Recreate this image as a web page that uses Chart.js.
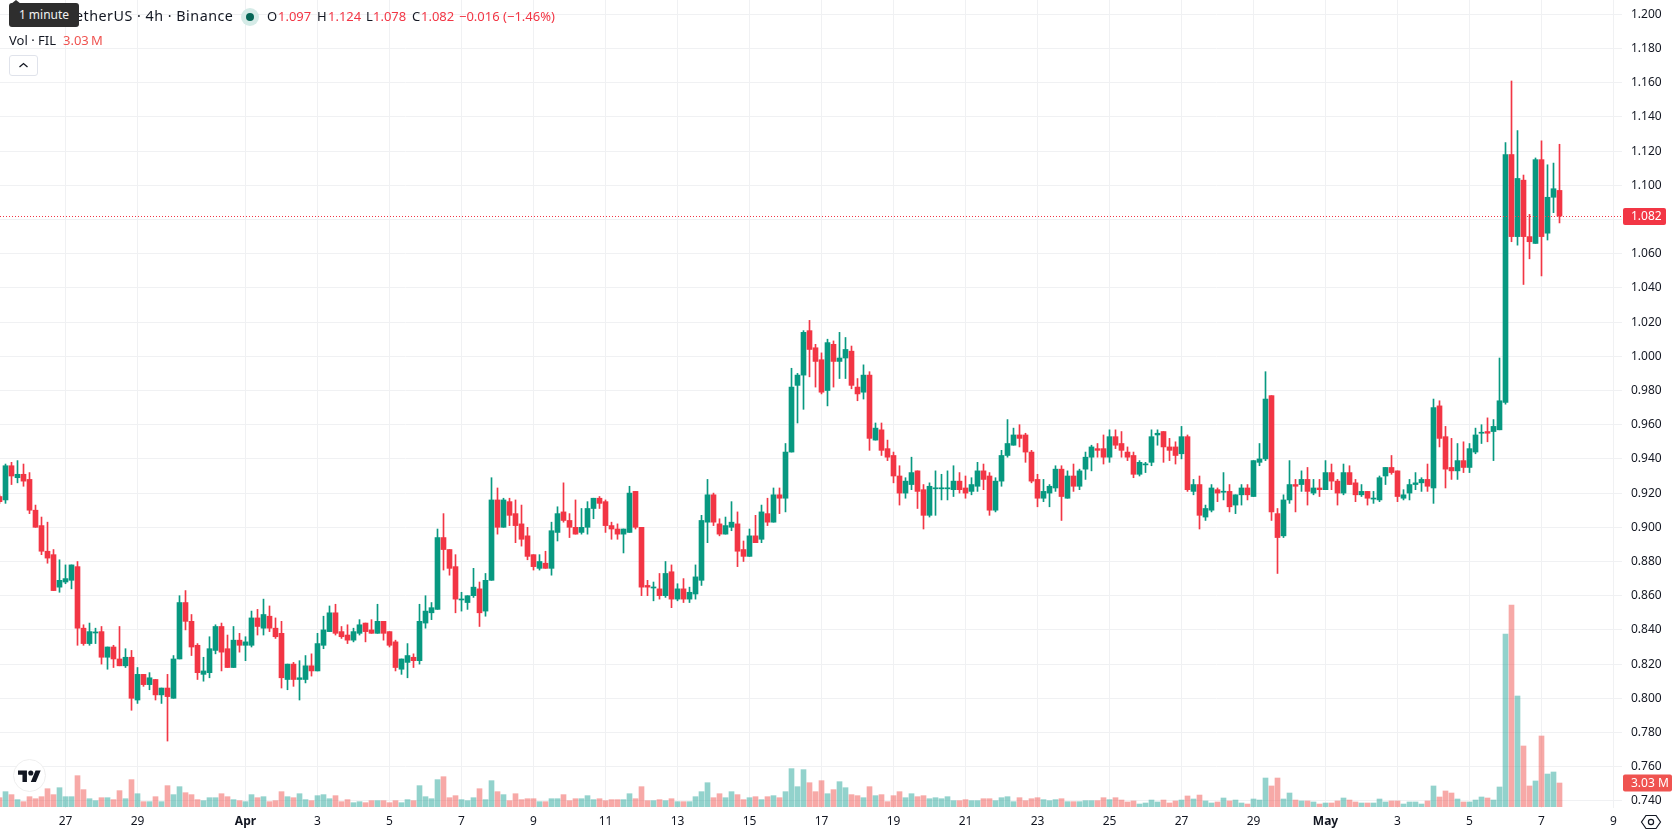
<!DOCTYPE html>
<html>
<head>
<meta charset="utf-8">
<title>FIL / TetherUS</title>
<script src="https://cdn.jsdelivr.net/npm/chart.js@4"></script>
<style>
html,body{margin:0;padding:0;background:#fff;overflow:hidden;}
#wrap{position:relative;width:1678px;height:835px;font-family:"Noto Sans",sans-serif;color:#131722;}
#grafica{position:absolute;left:0;top:0;}
.t{position:absolute;white-space:nowrap;font-size:13px;line-height:18px;}
.r{color:#f23645;}
#tip{position:absolute;left:9px;top:3px;width:70px;height:24px;background:#2e2e2e;border-radius:3px;color:#f2f2f2;font-size:12px;line-height:24px;text-align:center;}
#tipn{position:absolute;left:11px;top:0;width:0;height:0;border-left:5px solid transparent;border-right:5px solid transparent;border-bottom:4px solid #2e2e2e;}
#dot{position:absolute;left:241px;top:8px;width:18px;height:18px;border-radius:50%;background:#d5ebe7;}
#dot i{position:absolute;left:5px;top:5px;width:8px;height:8px;border-radius:50%;background:#056656;}
#btn{position:absolute;left:9px;top:55px;width:27px;height:19px;border:1px solid #e0e3eb;border-radius:3px;background:#fff;}
#logo{position:absolute;left:13px;top:759px;width:31px;height:31px;border:1px solid #eeeeee;border-radius:50%;background:#fff;}
</style>
</head>
<body>
<div id="wrap">
  <canvas id="grafica" width="1678" height="835"></canvas>

  <div class="t" style="left:32px;top:7px;font-size:14.3px;letter-spacing:.5px">FIL / TetherUS · 4h · Binance</div>
  <div id="dot"><i></i></div>
  <div class="t" style="left:267px;top:7px">O</div><div class="t r" style="left:278px;top:7px">1.097</div>
  <div class="t" style="left:317px;top:7px">H</div><div class="t r" style="left:328px;top:7px">1.124</div>
  <div class="t" style="left:366px;top:7px">L</div><div class="t r" style="left:373px;top:7px">1.078</div>
  <div class="t" style="left:412px;top:7px">C</div><div class="t r" style="left:421px;top:7px">1.082</div>
  <div class="t r" style="left:459px;top:7px">−0.016 (−1.46%)</div>
  <div class="t" style="left:9px;top:31px">Vol · FIL</div>
  <div class="t" style="left:63px;top:31px;color:#ef5350">3.03&#8201;M</div>

  <div id="btn">
    <svg width="27" height="19" viewBox="0 0 27 19"><path d="M9.5 11 L13.5 7.5 L17.5 11" fill="none" stroke="#131722" stroke-width="1.3"/></svg>
  </div>

  <div id="tipn"></div>
  <div id="tip">1 minute</div>

  <div id="logo">
    <svg style="position:absolute;left:4px;top:9px" width="23" height="13" viewBox="0 2 36 20"><path fill="#131722" d="M14 22H7V11H0V4h14v18zM28 22h-8l7.5-18h8L28 22z"/><circle fill="#131722" cx="20" cy="8" r="4"/></svg>
  </div>

  <svg style="position:absolute;left:1640px;top:812px" width="22" height="20" viewBox="0 0 22 20">
    <path d="M6 3.5 H16 L20.5 10 L16 16.5 H6 L1.5 10 Z" fill="none" stroke="#131722" stroke-width="1.2"/>
    <circle cx="11" cy="10" r="2.6" fill="none" stroke="#131722" stroke-width="1.2"/>
  </svg>
</div>

<script>

// DATOS

const opens = [
.918,.916,.936,.929,.931,.928,.910,.901,.886,.884,
.865,.868,.869,.877,.841,.832,.8382,.839,.824,.830,
.823,.819,.824,.799,.814,.808,.811,.802,.806,.800,
.823,.856,.845,.831,.814,.815,.828,.842,.829,.818,
.834,.831,.831,.847,.841,.848,.841,.838,.811,.820,
.811,.811,.819,.816,.831,.839,.850,.839,.837,.834,
.838,.844,.840,.838,.845,.839,.833,.817,.821,.824,
.822,.844,.850,.852,.894,.887,.877,.8575,.856,.860,
.864,.851,.869,.916,.900,.915,.908,.902,.895,.884,
.876,.879,.876,.897,.909,.904,.900,.897,.900,.911,
.917,.915,.901,.899,.896,.897,.921,.900,.866,.8645,
.864,.860,.874,.858,.864,.858,.861,.869,.903,.919,
.902,.896,.900,.902,.887,.883,.895,.893,.908,.903,
.919,.917,.944,.983,.989,1.015,1.005,.998,.980,1.007,
.997,.999,1.003,.982,.979,.989,.951,.957,.946,.942,
.930,.920,.925,.933,.922,.907,.9225,.9225,.9225,.922,
.927,.923,.921,.924,.933,.930,.910,.927,.942,.948,
.954,.954,.944,.928,.917,.920,.923,.934,.917,.930,
.924,.934,.941,.946,.946,.941,.953,.949,.944,.942,
.931,.9365,.938,.954,.956,.947,.947,.943,.953,.921,
.925,.906,.910,.922,.9205,.921,.913,.919,.923,.918,
.938,.940,.977,.908,.895,.916,.925,.925,.928,.920,
.923,.922,.932,.927,.920,.932,.926,.919,.921,.9165,
.916,.930,.935,.933,.917,.920,.925,.926,.928,.923,
.971,.953,.935,.933,.939,.935,.944,.955,.956,.956,
.957,.973,1.118,1.070,1.103,1.070,1.066,1.115,1.072,1.093,1.097
];

const highs = [
.919,.937,.938,.939,.937,.932,.913,.906,.903,.887,
.881,.878,.878,.880,.843,.844,.841,.842,.830,.831,
.842,.829,.828,.818,.814,.815,.811,.806,.814,.825,
.860,.863,.849,.832,.824,.836,.843,.844,.837,.842,
.838,.836,.851,.852,.858,.854,.847,.845,.820,.821,
.822,.825,.826,.838,.848,.854,.855,.842,.843,.841,
.846,.844,.846,.855,.845,.839,.834,.823,.832,.826,
.855,.860,.856,.899,.908,.887,.884,.862,.860,.876,
.868,.873,.929,.923,.917,.917,.916,.913,.900,.884,
.884,.886,.903,.912,.926,.908,.916,.911,.915,.917,
.918,.916,.903,.902,.899,.924,.921,.900,.869,.868,
.873,.880,.878,.867,.870,.865,.878,.907,.928,.920,
.905,.906,.915,.909,.892,.899,.907,.913,.917,.923,
.923,.949,.993,.990,1.015,1.021,1.007,1.002,1.010,1.009,
1.014,1.011,1.006,.987,.995,.991,.961,.961,.951,.944,
.936,.929,.941,.933,.925,.926,.933,.931,.933,.936,
.932,.930,.929,.938,.937,.932,.929,.945,.963,.958,
.960,.955,.945,.931,.928,.925,.936,.936,.933,.937,
.934,.944,.948,.949,.954,.957,.957,.956,.947,.944,
.939,.938,.957,.957,.956,.952,.950,.959,.954,.928,
.930,.913,.925,.923,.932,.925,.919,.925,.925,.939,
.949,.991,.977,.911,.919,.939,.928,.933,.935,.928,
.928,.939,.937,.928,.937,.936,.928,.925,.921,.921,
.930,.935,.942,.933,.922,.928,.932,.929,.937,.975,
.974,.959,.952,.949,.950,.949,.958,.960,.964,.963,
.999,1.125,1.161,1.132,1.106,1.083,1.116,1.126,1.112,1.113,1.124
];

const lows = [
.914,.914,.925,.926,.924,.908,.900,.884,.879,.863,
.862,.867,.864,.831,.831,.831,.832,.820,.817,.818,
.819,.818,.793,.797,.807,.805,.799,.797,.775,.800,
.823,.840,.825,.811,.810,.812,.826,.816,.818,.818,
.827,.822,.830,.837,.837,.839,.835,.806,.805,.807,
.799,.809,.813,.816,.829,.839,.837,.835,.832,.833,
.837,.833,.838,.838,.834,.830,.816,.814,.812,.818,
.820,.841,.846,.852,.875,.872,.850,.851,.852,.859,
.842,.848,.869,.896,.900,.901,.891,.889,.881,.875,
.875,.876,.872,.892,.903,.894,.896,.896,.896,.905,
.911,.897,.893,.893,.885,.897,.899,.860,.860,.857,
.858,.859,.853,.857,.856,.856,.858,.866,.891,.901,
.895,.896,.898,.877,.880,.883,.891,.891,.901,.903,
.908,.909,.944,.961,.969,.988,.982,.978,.971,.982,
.987,.987,.981,.974,.975,.945,.951,.942,.939,.926,
.913,.917,.922,.911,.899,.906,.907,.916,.916,.918,
.920,.917,.919,.921,.922,.907,.909,.924,.941,.948,
.947,.938,.926,.912,.915,.912,.921,.904,.917,.921,
.922,.928,.933,.941,.937,.938,.946,.941,.939,.929,
.930,.932,.936,.948,.938,.939,.937,.940,.921,.919,
.899,.904,.909,.915,.916,.909,.908,.913,.916,.918,
.936,.939,.904,.873,.894,.914,.909,.921,.913,.919,
.918,.922,.922,.913,.919,.925,.915,.918,.913,.914,
.915,.925,.931,.915,.916,.916,.922,.921,.921,.914,
.947,.923,.928,.928,.932,.932,.943,.949,.950,.939,
.957,.972,1.067,1.065,1.042,1.057,1.066,1.047,1.068,1.084,1.078
];

const closes = [
.915,.936,.930,.931,.927,.910,.900,.886,.882,.863,
.869,.870,.878,.841,.832,.839,.8388,.824,.830,.823,
.819,.824,.800,.814,.808,.812,.802,.806,.801,.823,
.856,.845,.830,.815,.816,.829,.842,.827,.818,.834,
.831,.833,.847,.842,.849,.841,.836,.812,.820,.811,
.812,.819,.816,.832,.840,.850,.838,.836,.834,.839,
.843,.839,.838,.845,.838,.831,.818,.823,.825,.822,
.845,.851,.853,.894,.887,.876,.858,.8581,.860,.865,
.850,.869,.916,.900,.916,.907,.901,.893,.883,.877,
.880,.876,.898,.908,.904,.900,.896,.900,.911,.917,
.914,.901,.899,.896,.899,.920,.900,.865,.865,.8651,
.860,.873,.858,.864,.858,.862,.871,.904,.919,.903,
.896,.901,.903,.886,.883,.895,.891,.909,.903,.919,
.917,.944,.982,.989,1.014,1.004,.997,.979,1.008,.997,
.999,1.004,.983,.978,.989,.952,.958,.945,.941,.930,
.920,.927,.932,.921,.907,.924,.9231,.9231,.9231,.927,
.922,.920,.925,.933,.928,.910,.927,.942,.949,.954,
.952,.944,.927,.917,.921,.924,.934,.918,.930,.924,
.933,.941,.947,.945,.941,.953,.948,.945,.941,.931,
.938,.9371,.953,.955,.947,.945,.942,.953,.922,.925,
.907,.911,.923,.920,.9211,.912,.919,.923,.919,.939,
.940,.975,.909,.894,.916,.925,.924,.928,.921,.923,
.922,.932,.927,.920,.932,.925,.919,.921,.917,.9171,
.929,.935,.932,.918,.919,.925,.926,.928,.924,.970,
.952,.934,.933,.939,.935,.946,.954,.9556,.955,.959,
.974,1.118,1.070,1.104,1.070,1.067,1.115,1.070,1.093,1.098,1.082
];

const volumes = [
1.15,1.92,1.54,.90,.64,1.28,1.02,1.28,2.30,1.54,
2.43,1.28,1.28,3.97,2.18,1.02,.77,1.15,1.15,.90,
2.05,1.02,3.46,1.66,.64,.64,1.28,.64,2.69,1.54,
2.56,1.79,1.54,.90,.77,1.15,1.15,1.66,1.28,.90,
.77,.64,1.54,1.15,1.28,.64,.77,1.92,1.28,1.15,
1.66,.90,.77,1.41,1.54,1.02,1.41,.64,.90,.51,
.64,.51,.77,.77,.77,.51,.77,.51,.90,.77,
2.69,1.28,1.02,3.46,3.84,1.15,1.41,.90,.77,1.15,
2.30,.90,3.33,1.92,1.54,.77,1.66,.90,1.02,1.02,
.64,.64,1.02,1.02,1.54,.77,1.02,1.02,1.41,.90,
1.02,.77,.90,.90,.90,1.66,1.02,2.56,.77,.77,
.90,.77,1.02,.64,.64,.64,1.28,1.92,3.07,1.15,
1.66,1.15,1.92,1.54,.90,1.15,1.28,.90,1.28,1.41,
1.15,1.92,4.87,2.56,4.74,3.07,1.92,3.33,1.66,2.18,
3.20,2.43,1.54,1.41,1.15,2.56,1.41,1.54,.64,1.41,
1.92,1.15,1.66,1.28,1.41,1.02,1.15,1.02,1.28,.77,
.77,.90,.77,.77,1.02,1.02,.77,1.15,1.28,.64,
1.15,.77,1.02,1.15,.90,.77,.90,1.02,.64,.64,
.64,.77,.77,.77,1.15,.90,1.15,.85,.60,.73,
.34,.47,.85,.60,.85,.47,.73,.85,1.37,.98,
1.49,.73,.47,.60,1.11,.73,.85,.47,.34,.98,
.85,3.67,2.65,3.67,.98,1.75,.85,.73,.73,.60,
.34,.47,.47,.73,1.11,.85,.60,.47,.47,.47,
.98,.60,.73,.73,.34,.60,.60,.34,.73,2.65,
1.24,2.01,1.75,.98,.60,.60,.85,1.24,1.11,.85,
2.52,22.11,25.83,14.17,7.77,2.65,3.29,9.05,4.18,4.44,3.03
];

const priceTicks = [.74,.76,.78,.80,.82,.84,.86,.88,.90,.92,.94,.96,.98,1,1.02,1.04,1.06,1.08,1.10,1.12,1.14,1.16,1.18,1.20];

const dateTicks = [11,23,41,53,65,77,89,101,113,125,137,149,161,173,185,197,209,221,233,245,257,269];
const dateLabels = ['27','29','Apr','3','5','7','9','11','13','15','17','19','21','23','25','27','29','May','3','5','7','9'];

const lastPriceLabel = '1.082';
const lastVolumeLabel = '3.03 M';

const verde = '#089981';
const rojo = '#f23645';
const rejilla = '#f0f1f3';
const fuente = '"Noto Sans", sans-serif';


// COLORES POR VELA

const colorVela = opens.map((o,i)=> closes[i] >= o ? verde : rojo);

const colorVolumen = opens.map((o,i)=> closes[i] >= o ? 'rgba(38,166,154,0.5)' : 'rgba(239,83,80,0.5)');


// LINEA DEL ULTIMO PRECIO Y ETIQUETAS DEL EJE

const ultimoPrecio = {

    id: 'ultimoPrecio',

    afterDatasetsDraw(chart){

        const c = chart.ctx;
        const area = chart.chartArea;
        const yPrecio = Math.round(chart.scales.y.getPixelForValue(closes[closes.length-1])) + 0.5;
        const yVol = chart.scales.vol.getPixelForValue(volumes[volumes.length-1]);

        c.save();

        c.strokeStyle = rojo;
        c.lineWidth = 1;
        c.setLineDash([1,2]);
        c.beginPath();
        c.moveTo(area.left, yPrecio);
        c.lineTo(area.right, yPrecio);
        c.stroke();
        c.setLineDash([]);

        etiqueta(c, area.right + 1, yPrecio, 43, rojo, lastPriceLabel);
        etiqueta(c, area.right + 1, yVol, 49, '#ef5350', lastVolumeLabel);

        c.restore();

    }

};

function etiqueta(c, x, y, ancho, color, texto){

    c.fillStyle = color;
    c.beginPath();
    c.roundRect(x, y - 8.5, ancho, 17, 2);
    c.fill();

    c.fillStyle = '#ffffff';
    c.font = '12px ' + fuente;
    c.textAlign = 'left';
    c.textBaseline = 'middle';
    c.fillText(texto, x + 8, y + 0.5);

}

// el eje no debe reservar margen para la primera y ultima etiqueta
function sinMargen(scale){
    scale.paddingLeft = 0;
    scale.paddingRight = 0;
    scale.paddingTop = 0;
    scale.paddingBottom = 0;
}


// GRAFICA

const ctx = document.getElementById('grafica');

new Chart(ctx, {

    type: 'bar',

    data: {

        datasets: [

            {
                label: 'Mechas',
                data: opens.map((o,i)=>({x:i, y:[lows[i], highs[i]]})),
                backgroundColor: colorVela,
                barThickness: 1,
                yAxisID: 'y'
            },

            {
                label: 'Cuerpos',
                data: opens.map((o,i)=>({x:i, y:[o, closes[i]]})),
                backgroundColor: colorVela,
                barThickness: 5,
                yAxisID: 'y'
            },

            {
                label: 'Vol',
                data: volumes.map((v,i)=>({x:i, y:v})),
                backgroundColor: colorVolumen,
                barThickness: 5,
                yAxisID: 'vol'
            }

        ]

    },

    options: {

        responsive: false,
        animation: false,
        events: [],
        grouped: false,

        layout: {
            padding: 0
        },

        plugins: {
            legend: {display:false},
            tooltip: {enabled:false}
        },

        scales: {

            x: {
                type: 'linear',
                offset: false,
                min: 0.5/6,
                max: 1622.5/6,
                grid: {
                    offset: false,
                    color: rejilla,
                    drawTicks: false
                },
                border: {display:false},
                afterBuildTicks(scale){
                    scale.ticks = dateTicks.map(v=>({value:v}));
                },
                afterFit(scale){
                    scale.height = 27;
                    sinMargen(scale);
                },
                ticks: {
                    autoSkip: false,
                    maxRotation: 0,
                    padding: 6,
                    color: '#131722',
                    font: (c)=>({
                        family: fuente,
                        size: 12,
                        weight: /[A-Z]/.test(dateLabels[c.index] || '') ? 'bold' : 'normal'
                    }),
                    callback: (v,i)=> dateLabels[i]
                }
            },

            y: {
                position: 'right',
                min: 1.16 - 725.3/1710,
                max: 1.16 + 82.7/1710,
                grid: {
                    color: rejilla,
                    drawTicks: false
                },
                border: {display:false},
                afterBuildTicks(scale){
                    scale.ticks = priceTicks.map(v=>({value:v}));
                },
                afterFit(scale){
                    scale.width = 56;
                    sinMargen(scale);
                },
                ticks: {
                    autoSkip: false,
                    padding: 9,
                    color: '#131722',
                    font: {family:fuente, size:12},
                    callback: (v)=> v.toFixed(3)
                }
            },

            vol: {
                display: false,
                position: 'right',
                min: -0.17,
                max: 103.3
            }

        }

    },

    plugins: [ultimoPrecio]

});

</script>
</body>
</html>
